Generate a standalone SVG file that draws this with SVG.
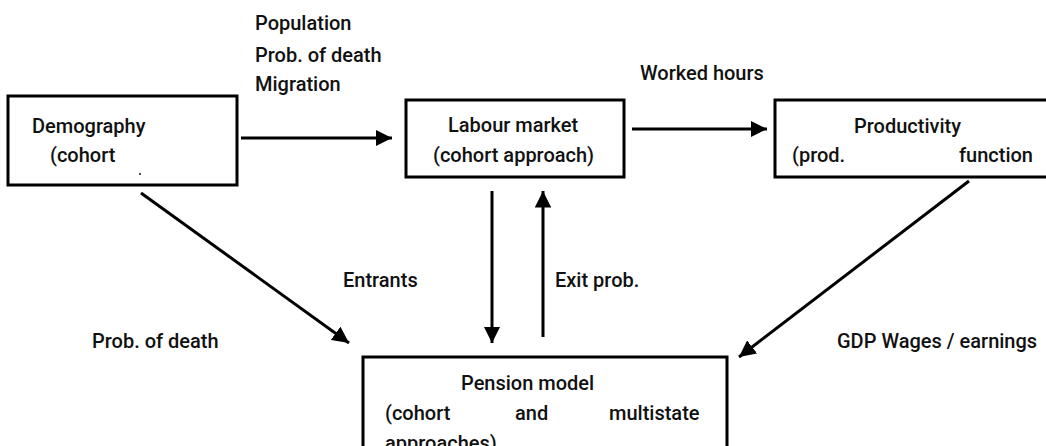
<svg xmlns="http://www.w3.org/2000/svg" width="1046" height="446" viewBox="0 0 1046 446">
<style>
.box{fill:#fff;stroke:#000;stroke-width:3}
.t{font-family:Roboto,"Liberation Sans",sans-serif;font-size:20px;font-weight:500;fill:#111}
.c{stroke:#000;stroke-width:3;fill:none;marker-end:url(#ah)}
</style>
<defs>
<marker id="ah" viewBox="0 0 10 10" refX="10" refY="5" markerWidth="5.5" markerHeight="5.5" orient="auto" markerUnits="strokeWidth">
<path d="M0,0 L10,5 L0,10 z" fill="#000"/>
</marker>
</defs>
<rect width="1046" height="446" fill="#fff"/>
<g id="connectors">
<line class="c" x1="241" y1="138" x2="392" y2="138"/>
<line class="c" x1="632" y1="129" x2="767" y2="129"/>
<line class="c" x1="141" y1="193" x2="349" y2="343"/>
<line class="c" x1="969" y1="181" x2="739" y2="357"/>
<line class="c" x1="492" y1="191" x2="492" y2="343"/>
<line class="c" x1="543" y1="337" x2="543" y2="191"/>
</g>
<g id="labels">
<text class="t" x="255" y="30">Population</text>
<text class="t" x="255" y="62">Prob. of death</text>
<text class="t" x="255" y="91">Migration</text>
<text class="t" x="640" y="80">Worked hours</text>
<text class="t" x="343" y="287">Entrants</text>
<text class="t" x="555" y="287">Exit prob.</text>
<text class="t" x="92" y="348">Prob. of death</text>
<text class="t" x="837" y="348">GDP Wages / earnings</text>
</g>
<g id="demography">
<rect class="box" x="8" y="96" width="229" height="89"/>
<text class="t" x="32" y="133">Demography</text>
<text class="t" x="50" y="162">(cohort</text>
<circle cx="140" cy="174" r="0.9" fill="#000"/>
</g>
<g id="labour-market">
<rect class="box" x="406" y="100" width="218" height="77"/>
<text class="t" x="448" y="132">Labour market</text>
<text class="t" x="433" y="162">(cohort approach)</text>
</g>
<g id="productivity">
<rect class="box" x="775" y="100" width="290" height="77"/>
<text class="t" x="854" y="133">Productivity</text>
<text class="t" x="792" y="162">(prod.</text>
<text class="t" x="959" y="162">function</text>
</g>
<g id="pension-model">
<rect class="box" x="363" y="357" width="364" height="120"/>
<text class="t" x="461" y="390">Pension model</text>
<text class="t" x="385" y="420">(cohort</text>
<text class="t" x="515" y="420">and</text>
<text class="t" x="609" y="420">multistate</text>
<text class="t" x="385" y="450">approaches)</text>
</g>
</svg>
